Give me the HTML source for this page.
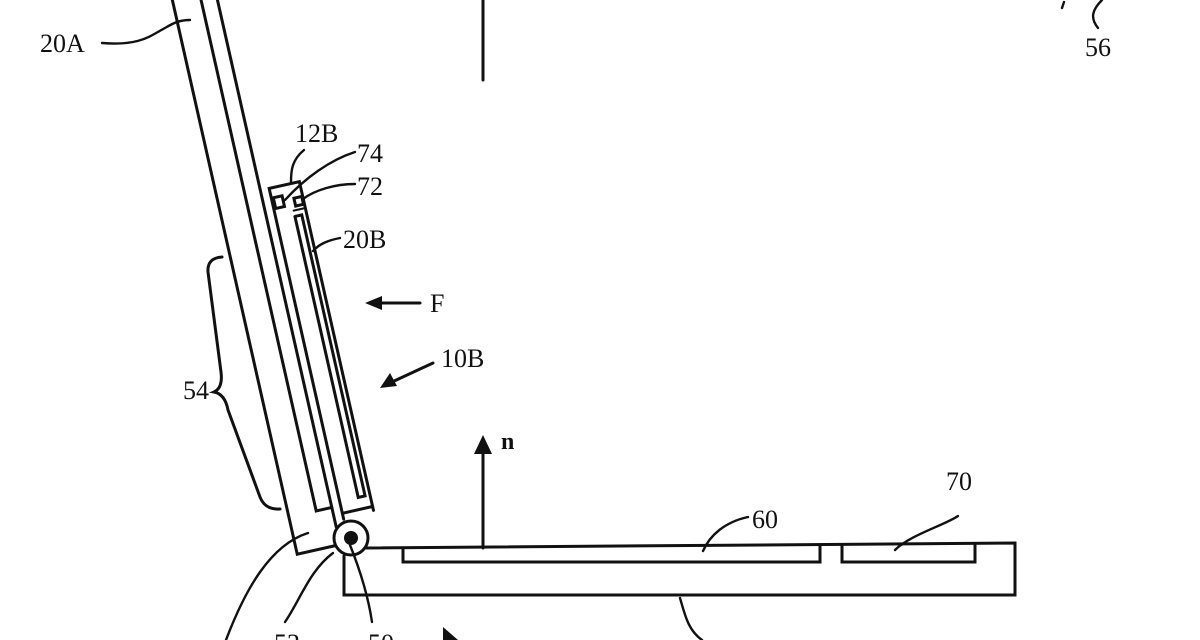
<!DOCTYPE html>
<html><head><meta charset="utf-8"><style>
html,body{margin:0;padding:0;background:#fff;}
svg{display:block;}
text{font-family:"Liberation Serif",serif;font-size:26px;fill:#111;}
</style></head><body>
<svg width="1200" height="640" viewBox="0 0 1200 640" xmlns="http://www.w3.org/2000/svg">
<g fill="none" stroke="#111" stroke-width="3" stroke-linejoin="miter" stroke-linecap="round">
  <g transform="translate(351,538) rotate(-12.7)">
    <polyline points="-56,-800 -56,4 -17,4"/>
    <line x1="-12" y1="-800" x2="-12" y2="-14"/>
    <polyline points="-28,-800 -28,-34 -12,-34"/>
    <polyline points="-3,-20 -3,-359 28,-359 28,-22"/>
    <line x1="-3" y1="-26" x2="28" y2="-26"/>
    <polyline points="16,-326 16,-38 23,-38 23,-326 16,-326"/>
    <line x1="16" y1="-332" x2="28" y2="-332" stroke-width="2"/>
    <rect x="-1" y="-349" width="9" height="11"/>
    <rect x="19" y="-344" width="8" height="8"/>
  </g>
  <circle cx="351" cy="538" r="17" fill="#fff" stroke-width="3"/>
  <circle cx="351" cy="538" r="7" fill="#111" stroke="none"/>
  <polyline points="366,548 1015,543 1015,595 344,595 344,556"/>
  <polyline points="403,548 403,562 820,562 820,546"/>
  <polyline points="842,546 842,562 975,562 975,544"/>
  <line x1="483" y1="548" x2="483" y2="450"/>
  <line x1="483" y1="0" x2="483" y2="80"/>
  <path d="M222,257 Q207,258 208,272 L221,372 Q223,388 214,392 Q225,394 228,410 L260,497 Q265,510 280,509"/>
  <line x1="380" y1="303" x2="420" y2="303"/>
  <line x1="433" y1="363" x2="392" y2="382"/>
  <g stroke-width="2.4">
  <path d="M102,43 C140,46 150,36 165,28 C172,24 178,20 190,20"/>
  <path d="M1098,28 C1090,18 1092,10 1102,0"/>
  <path d="M1062,8 L1064,2" />
  <path d="M304,150 C292,160 291,170 291,182"/>
  <path d="M355,152 C330,160 305,178 285,200"/>
  <path d="M355,184 C335,184 315,190 303,199"/>
  <path d="M340,238 C330,240 320,243 313,251"/>
  <path d="M748,517 C725,522 710,535 703,551"/>
  <path d="M958,516 C945,525 910,535 895,550"/>
  <path d="M680,598 C685,615 688,630 702,640"/>
  <path d="M308,533 C270,545 245,590 226,640"/>
  <path d="M333,553 C310,570 300,600 285,622"/>
  <path d="M350,545 C360,570 368,595 372,622"/>
  </g>
</g>
<g fill="#111" stroke="none">
  <polygon points="365,303 382,296 382,310"/>
  <polygon points="380,388 390,373 397,386"/>
  <polygon points="483,435 474,454 492,454"/>
  <polygon points="443,627 443,640 458,640"/>
</g>
<text x="40" y="52">20A</text>
<text x="1085" y="56">56</text>
<text x="295" y="142">12B</text>
<text x="357" y="162">74</text>
<text x="357" y="195">72</text>
<text x="343" y="248">20B</text>
<text x="430" y="312">F</text>
<text x="441" y="367">10B</text>
<text x="183" y="399">54</text>
<text x="501" y="449" style="font-weight:bold;font-size:24px">n</text>
<text x="752" y="528">60</text>
<text x="946" y="490">70</text>
<text x="274" y="652">52</text>
<text x="368" y="652">50</text>
</svg>
</body></html>
